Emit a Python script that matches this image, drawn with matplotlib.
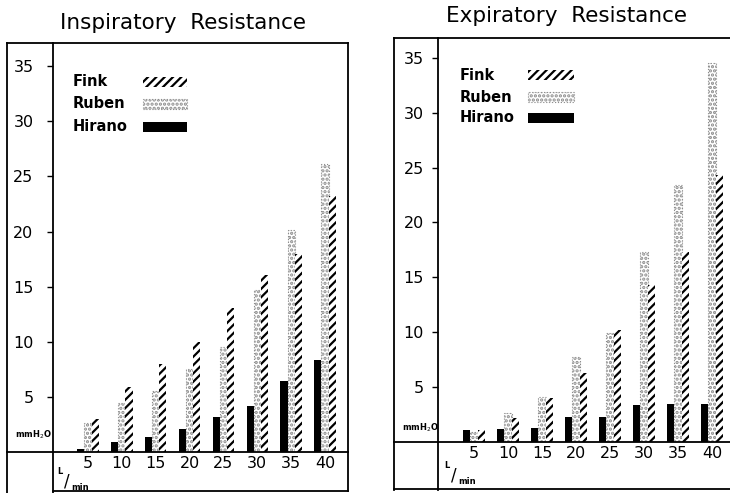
import numpy as np
import matplotlib.pyplot as plt
from matplotlib.lines import Line2D
from matplotlib.patches import Rectangle

# ─── Data ─────────────────────────────────────────────────────────────────────

flow_labels = ['5', '10', '15', '20', '25', '30', '35', '40']   # L/min

insp_hirano = [0.3, 0.9, 1.4, 2.1, 3.2, 4.2, 6.4, 8.3]
insp_ruben = [2.6, 4.4, 5.5, 7.5, 9.5, 14.7, 20.1, 26.1]
insp_fink = [3.0, 5.9, 8.0, 10.0, 13.1, 16.1, 18.0, 23.2]

exp_hirano = [1.1, 1.2, 1.25, 2.3, 2.3, 3.4, 3.5, 3.5]
exp_ruben = [0.9, 2.6, 4.1, 7.7, 9.9, 17.3, 23.4, 34.5]
exp_fink = [1.1, 2.2, 4.0, 6.3, 10.2, 14.3, 17.3, 24.3]

yticks = [5, 10, 15, 20, 25, 30, 35]

# ─── Figure setup ─────────────────────────────────────────────────────────────

W, H = 730, 493
plt.rcParams['font.family'] = 'DejaVu Sans'
plt.rcParams['hatch.linewidth'] = 1.6
fig = plt.figure(figsize=(W / 100, H / 100), dpi=100)


def fx(px):
    return px / W


def fy(py):
    return 1 - py / H


def fig_line(x0, y0, x1, y1, lw=1.3):
    fig.add_artist(Line2D([fx(x0), fx(x1)], [fy(y0), fy(y1)],
                          transform=fig.transFigure, color='black', lw=lw))


FINK = dict(facecolor='white', edgecolor='black', hatch='////', linewidth=0)
RUBEN = dict(facecolor='white', edgecolor='#8c8c8c', hatch='....',
             linewidth=0.8, linestyle=':')
HIRANO = dict(facecolor='black', edgecolor='black', linewidth=0)


def panel(box, xlim, ylim, hirano, ruben, fink, ypad, xpad, right_spine=True):
    left, top, right, base = box
    ax = fig.add_axes([fx(left), fy(base), fx(right) - fx(left), fy(top) - fy(base)])
    x = np.arange(len(flow_labels))
    w = 0.21
    ax.bar(x - w, hirano, w, **HIRANO)
    ax.bar(x, ruben, w, **RUBEN)
    ax.bar(x + w, fink, w, **FINK)
    ax.set_xlim(*xlim)
    ax.set_ylim(*ylim)
    ax.set_yticks(yticks)
    ax.set_yticklabels([str(t) for t in yticks], fontsize=11.5)
    ax.set_xticks(x)
    ax.set_xticklabels(flow_labels, fontsize=11.5)
    ax.tick_params(axis='y', direction='out', length=4, width=1, pad=ypad)
    ax.tick_params(axis='x', length=0, pad=xpad)
    for s in ax.spines.values():
        s.set_linewidth(1.3)
    ax.spines['right'].set_visible(right_spine)
    return ax


# ─── Inspiratory panel ────────────────────────────────────────────────────────

ax1 = panel((53, 43, 348, 452), (-1.034, 7.68), (0, 37.1),
            insp_hirano, insp_ruben, insp_fink, ypad=10, xpad=3)
fig_line(7, 43, 7, 493)
fig_line(7, 43, 53, 43)
fig_line(7, 452, 53, 452)
fig_line(53, 452, 53, 493)
fig_line(348, 452, 348, 491)
fig_line(53, 491, 348, 491)

fig.text(fx(183), fy(23), 'Inspiratory  Resistance', fontsize=15.5,
         ha='center', va='center')

# ─── Expiratory panel ─────────────────────────────────────────────────────────

ax2 = panel((438, 38, 731, 442), (-1.06, 7.56), (0, 36.8),
            exp_hirano, exp_ruben, exp_fink, ypad=6, xpad=3, right_spine=False)
fig_line(394, 38, 394, 490)
fig_line(394, 38, 438, 38)
fig_line(394, 442, 438, 442)
fig_line(438, 442, 438, 490)
fig_line(394, 489, 730, 489)

fig.text(fx(567), fy(16), 'Expiratory  Resistance', fontsize=15.5,
         ha='center', va='center')

# ─── Legends (drawn by hand: labels left, swatches right) ────────────────────

legend_names = ['Fink', 'Ruben', 'Hirano']
legend_styles = [FINK, RUBEN, HIRANO]


def draw_legend(tx, sx0, sx1, ys):
    for name, style, yy in zip(legend_names, legend_styles, ys):
        fig.text(fx(tx), fy(yy), name, fontsize=10.5, fontweight='bold',
                 ha='left', va='center')
        fig.add_artist(Rectangle((fx(sx0), fy(yy + 5)), fx(sx1) - fx(sx0),
                                 fy(yy - 5) - fy(yy + 5),
                                 transform=fig.transFigure, **style))


draw_legend(73, 143, 187, [82, 104, 127])
draw_legend(460, 528, 574, [75, 97, 118])

# ─── Unit labels ─────────────────────────────────────────────────────────────

for (mx, my), (lx, ly) in [((15, 435), (57, 472)), ((402, 428), (444, 466))]:
    fig.text(fx(mx), fy(my), r'mmH$_2$O', fontsize=6, fontweight='bold',
             ha='left', va='center')
    fig.text(fx(lx), fy(ly), 'L', fontsize=6, fontweight='bold',
             ha='left', va='center')
    fig.text(fx(lx + 7), fy(ly + 10), '/', fontsize=12, ha='left', va='center')
    fig.text(fx(lx + 14), fy(ly + 15), 'min', fontsize=6, fontweight='bold',
             ha='left', va='center')

fig.savefig('out.png', dpi=100)
